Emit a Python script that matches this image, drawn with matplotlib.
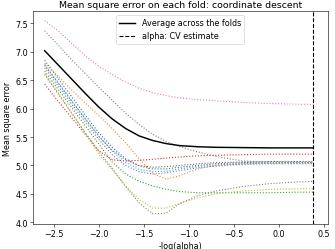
import matplotlib
matplotlib.use("Agg")
import matplotlib.pyplot as plt
import numpy as np

plt.rcParams['font.size'] = 11

# -log10(alpha) grid
m_log_alphas = [-2.6, -2.45, -2.3, -2.15, -2.0, -1.85, -1.7, -1.55, -1.4,
                -1.25, -1.1, -0.9, -0.7, -0.4, -0.1, 0.2, 0.385]

# mse per fold
fold_pink = [7.55, 7.37, 7.15, 6.93, 6.75, 6.60, 6.47, 6.36, 6.28,
             6.23, 6.19, 6.16, 6.14, 6.11, 6.09, 6.08, 6.075]
fold_gray_a = [7.37, 7.12, 6.86, 6.62, 6.38, 6.15, 5.92, 5.72, 5.55,
               5.42, 5.33, 5.24, 5.16, 5.08, 5.06, 5.055, 5.05]
fold_red = [6.43, 6.13, 5.84, 5.55, 5.26, 5.10, 5.08, 5.09, 5.11,
            5.13, 5.15, 5.17, 5.18, 5.19, 5.20, 5.20, 5.20]
fold_orange = [6.80, 6.57, 6.33, 6.10, 5.88, 5.65, 5.40, 5.12, 4.86,
               4.76, 4.82, 4.94, 5.00, 5.03, 5.04, 5.05, 5.05]
fold_blue = [6.85, 6.53, 6.21, 5.89, 5.58, 5.32, 5.12, 4.99, 4.94,
             4.94, 4.97, 5.00, 5.03, 5.05, 5.06, 5.06, 5.06]
fold_cyan = [6.78, 6.46, 6.14, 5.83, 5.52, 5.25, 5.05, 4.93, 4.89,
             4.90, 4.94, 4.98, 5.01, 5.03, 5.04, 5.04, 5.04]
fold_purple = [6.72, 6.40, 6.08, 5.77, 5.46, 5.19, 5.00, 4.89, 4.85,
               4.87, 4.91, 4.96, 4.99, 5.02, 5.03, 5.03, 5.03]
fold_brown = [6.76, 6.45, 6.13, 5.82, 5.52, 5.27, 5.10, 5.00, 4.97,
              4.98, 5.00, 5.03, 5.05, 5.06, 5.07, 5.07, 5.07]
fold_green = [6.66, 6.34, 6.02, 5.70, 5.38, 5.06, 4.85, 4.72, 4.64,
              4.58, 4.54, 4.52, 4.52, 4.52, 4.52, 4.53, 4.53]
fold_olive = [6.62, 6.28, 5.93, 5.57, 5.20, 4.93, 4.64, 4.40, 4.25,
              4.25, 4.33, 4.43, 4.50, 4.55, 4.58, 4.59, 4.59]
fold_gray_b = [6.60, 6.26, 5.92, 5.58, 5.25, 4.95, 4.63, 4.34, 4.15,
               4.16, 4.33, 4.47, 4.55, 4.63, 4.68, 4.71, 4.72]

mse_mean = [7.02, 6.77, 6.52, 6.27, 6.03, 5.82, 5.65, 5.52, 5.44,
            5.385, 5.35, 5.33, 5.32, 5.315, 5.31, 5.31, 5.31]

alpha_cv = 0.385

folds = [fold_blue, fold_orange, fold_green, fold_red, fold_purple,
         fold_brown, fold_pink, fold_gray_a, fold_olive, fold_cyan,
         fold_gray_b]
fold_colors = ['C0', 'C1', 'C2', 'C3', 'C4', 'C5', 'C6', 'C7', 'C8', 'C9', 'C7']

dpi = 335 / 6.4
fig = plt.figure(figsize=(6.4, 250 / dpi), dpi=dpi)
ax = fig.add_subplot(111)
fig.subplots_adjust(left=0.0985, right=0.978, bottom=0.10, top=0.951)

for f, c in zip(folds, fold_colors):
    ax.plot(m_log_alphas, f, ':', color=c)
ax.plot(m_log_alphas, mse_mean, 'k', label='Average across the folds', linewidth=2)
ax.axvline(alpha_cv, linestyle='--', color='k', label='alpha: CV estimate')

ax.legend(loc='upper center')
ax.set_xlabel('-log(alpha)')
ax.set_ylabel('Mean square error')
ax.set_title('Mean square error on each fold: coordinate descent', fontsize=13)
ax.set_xlim(-2.73, 0.544)
ax.set_ylim(3.97, 7.715)

fig.savefig('out.png', dpi=dpi)
